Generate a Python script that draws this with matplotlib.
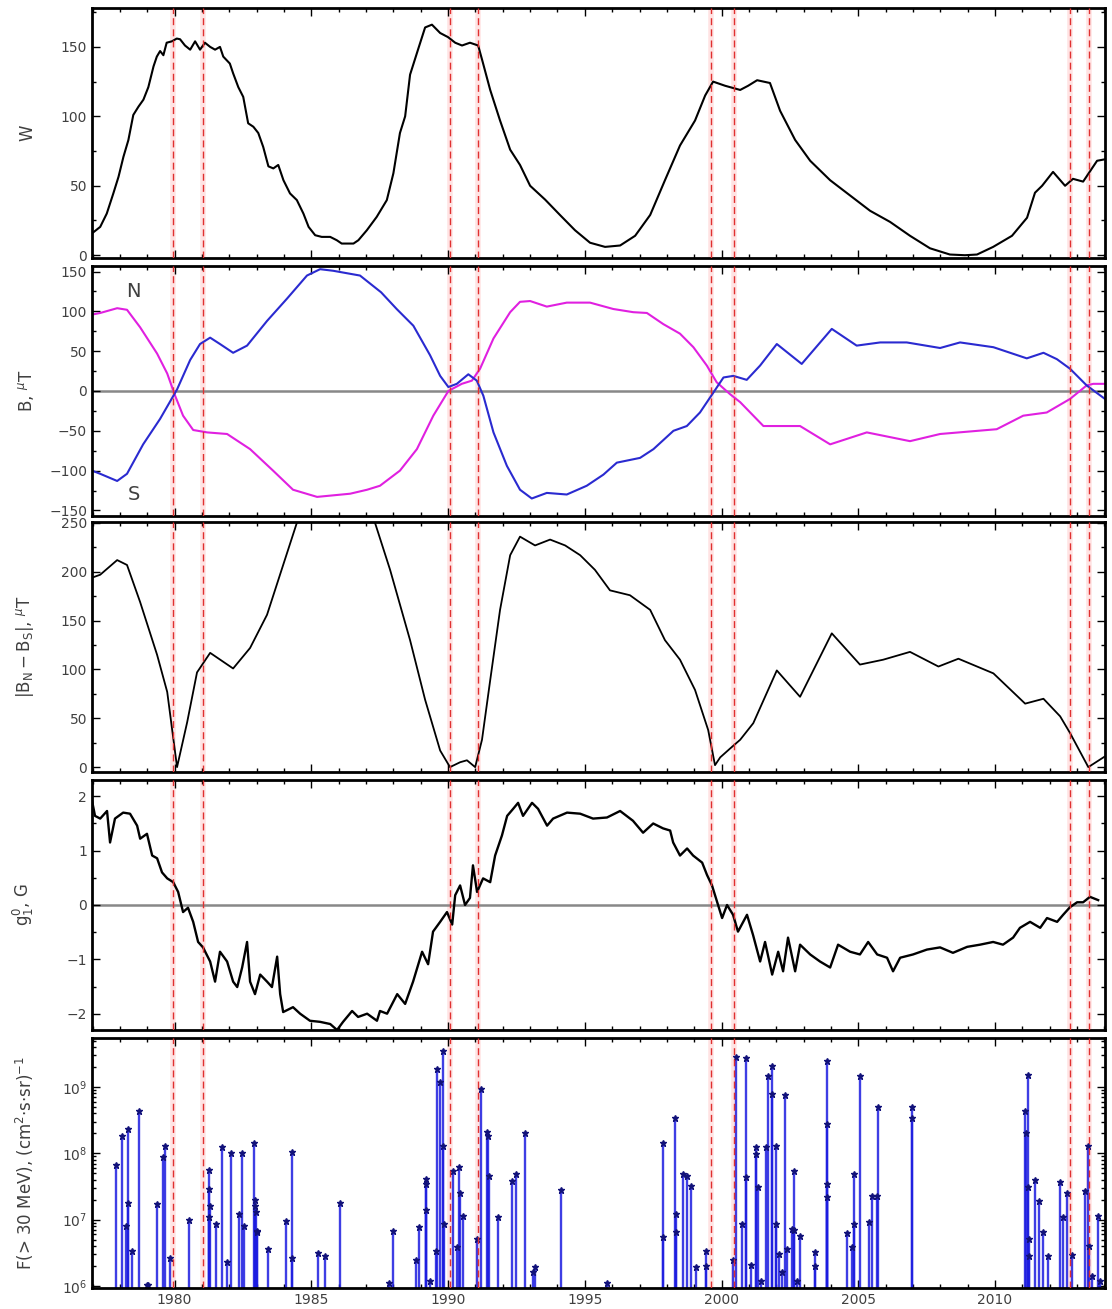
import numpy as np
import matplotlib
matplotlib.use("Agg")
import matplotlib.pyplot as plt
from matplotlib.ticker import MultipleLocator, LogLocator, NullFormatter

# ---- data ----
# sunspot number W
w_year = [1976.97, 1977.28, 1977.52, 1977.76, 1977.95, 1978.13, 1978.31, 1978.43, 1978.49, 1978.68,
          1978.86, 1979.04, 1979.23, 1979.35, 1979.47, 1979.59, 1979.71, 1979.90, 1980.08, 1980.20,
          1980.38, 1980.57, 1980.75, 1980.93, 1981.11, 1981.30, 1981.48, 1981.66, 1981.78, 1982.02,
          1982.14, 1982.33, 1982.51, 1982.69, 1982.88, 1983.06, 1983.24, 1983.43, 1983.61, 1983.79,
          1983.98, 1984.22, 1984.47, 1984.71, 1984.90, 1985.14, 1985.38, 1985.69, 1985.93, 1986.11,
          1986.54, 1986.72, 1987.03, 1987.39, 1987.76, 1988.00, 1988.24, 1988.43, 1988.61, 1988.90,
          1989.16, 1989.41, 1989.71, 1990.00, 1990.26, 1990.51, 1990.80, 1991.10, 1991.24, 1991.54,
          1991.90, 1992.27, 1992.63, 1993.00, 1993.55, 1994.09, 1994.64, 1995.19, 1995.74, 1996.29,
          1996.84, 1997.39, 1997.93, 1998.48, 1999.03, 1999.40, 1999.69, 2000.13, 2000.68, 2000.97,
          2001.30, 2001.77, 2002.14, 2002.69, 2003.24, 2003.97, 2004.70, 2005.43, 2006.16, 2006.89,
          2007.62, 2008.35, 2008.90, 2009.34, 2009.93, 2010.62, 2011.17, 2011.46, 2011.72, 2012.12,
          2012.56, 2012.85, 2013.22, 2013.73, 2014.00]
w_val = [15.6, 20.4, 30.0, 44.5, 56.5, 70.9, 82.9, 95.0, 101, 107,
         112, 121, 136, 143, 147, 144, 153, 154, 156, 155.5,
         151, 148, 154, 148, 153, 150, 148, 150, 143, 138,
         131, 121, 114, 95, 92.5, 88, 78, 64, 62.5, 65,
         54, 44.5, 39.7, 30, 20.4, 14.4, 13.2, 13.2, 10.8, 8.4,
         8.4, 10.8, 18, 27.6, 39.7, 59, 88, 100, 130, 148,
         164, 166, 160, 157, 153, 151, 153, 151, 141, 119,
         97, 76, 65, 50, 40, 29, 18, 9, 6, 7,
         14, 29, 54, 79, 97, 115, 125, 122, 119, 122,
         126, 124, 104, 83, 68, 54, 43, 32, 24, 14,
         5, 0.5, 0, 0.5, 6, 14, 27, 45, 50, 60,
         50, 55, 53, 68, 69]

# polar fields, northern (N) and southern (S) hemisphere
bn_year = [1976.98, 1977.28, 1977.90, 1978.26, 1978.74, 1979.36, 1979.73, 1980.02, 1980.31, 1980.68,
           1981.19, 1981.92, 1982.76, 1983.60, 1984.33, 1985.21, 1986.42, 1987.04, 1987.51, 1988.24,
           1988.86, 1989.46, 1990.01, 1990.50, 1990.87, 1991.17, 1991.66, 1992.27, 1992.63, 1993.00,
           1993.61, 1994.34, 1995.19, 1996.04, 1996.77, 1997.27, 1997.87, 1998.48, 1998.97, 1999.46,
           1999.82, 2000.31, 2000.68, 2001.53, 2002.87, 2003.97, 2005.31, 2006.89, 2007.99, 2010.06,
           2011.03, 2011.89, 2012.74, 2013.35, 2013.59, 2014.02]
bn_val = [96, 98, 104, 102, 80, 47, 22, -6, -31, -49,
          -52, -54, -73, -100, -124, -133, -129, -124, -119, -100,
          -73, -31, 0, 9, 13, 28, 66, 99, 112, 113,
          106, 111, 111, 103, 99, 98, 84, 72, 55, 32,
          11, -4, -14, -44, -44, -67, -52, -63, -54, -48,
          -31, -27, -10, 7, 9, 9]
bs_year = [1976.98, 1977.28, 1977.90, 1978.26, 1978.85, 1979.47, 1980.09, 1980.57, 1980.93, 1981.30,
           1981.66, 1982.14, 1982.65, 1983.38, 1984.11, 1984.84, 1985.32, 1985.80, 1986.78, 1987.55,
           1988.12, 1988.73, 1989.34, 1989.71, 1990.01, 1990.32, 1990.74, 1991.05, 1991.29, 1991.66,
           1992.15, 1992.63, 1993.06, 1993.61, 1994.34, 1995.07, 1995.68, 1996.17, 1997.02, 1997.51,
           1998.24, 1998.73, 1999.21, 1999.70, 2000.07, 2000.43, 2000.92, 2001.41, 2002.02, 2002.93,
           2004.03, 2004.94, 2005.80, 2006.77, 2007.99, 2008.72, 2009.94, 2011.16, 2011.77, 2012.26,
           2012.74, 2013.35, 2014.02]
bs_val = [-100, -104, -113, -104, -67, -35, 2, 39, 59, 67,
          59, 48, 57, 88, 116, 145, 153, 151, 145, 124,
          103, 82, 45, 19, 5, 9, 21, 13, -6, -52,
          -94, -124, -135, -128, -130, -119, -105, -90, -84, -73,
          -50, -44, -27, -2, 17, 19, 14, 32, 59, 34,
          78, 57, 61, 61, 54, 61, 55, 41, 48, 40,
          28, 7, -10]

# |B_N - B_S|
db_year = [1976.98, 1977.28, 1977.90, 1978.26, 1978.74, 1979.36, 1979.73, 1980.09, 1980.46, 1980.82,
           1981.30, 1982.14, 1982.76, 1983.38, 1983.97, 1984.48, 1985.30, 1986.40, 1987.33, 1987.88,
           1988.61, 1989.16, 1989.71, 1990.07, 1990.44, 1990.69, 1990.99, 1991.24, 1991.54, 1991.90,
           1992.27, 1992.63, 1993.18, 1993.73, 1994.28, 1994.83, 1995.37, 1995.92, 1996.65, 1997.39,
           1997.93, 1998.48, 1999.03, 1999.51, 1999.76, 1999.95, 2000.31, 2000.68, 2001.16, 2002.02,
           2002.87, 2004.03, 2005.06, 2005.91, 2006.89, 2007.93, 2008.66, 2009.94, 2011.10, 2011.77,
           2012.38, 2012.74, 2013.41, 2014.02]
db_val = [194, 197, 212, 207, 169, 115, 77, 0, 46, 97,
          117, 101, 122, 156, 207, 251, 285, 280, 250, 202,
          130, 69, 17, 0, 5, 7, 0, 28, 89, 161,
          217, 236, 227, 233, 227, 217, 202, 181, 176, 161,
          130, 110, 79, 38, 2, 10, 19, 28, 45, 99,
          72, 137, 105, 110, 118, 103, 111, 96, 65, 70,
          52, 35, 0, 11]

# solar dipole g_1^0
g_year = [1976.98, 1977.09, 1977.28, 1977.53, 1977.64, 1977.82, 1978.12, 1978.37, 1978.63, 1978.74,
          1978.99, 1979.18, 1979.36, 1979.54, 1979.73, 1979.95, 1980.13, 1980.31, 1980.49, 1980.68,
          1980.86, 1981.04, 1981.30, 1981.48, 1981.66, 1981.92, 1982.14, 1982.29, 1982.47, 1982.65,
          1982.76, 1982.94, 1983.13, 1983.38, 1983.56, 1983.75, 1983.86, 1983.97, 1984.33, 1984.59,
          1984.95, 1985.32, 1985.69, 1985.94, 1986.16, 1986.49, 1986.71, 1987.04, 1987.40, 1987.51,
          1987.77, 1988.14, 1988.43, 1988.72, 1989.05, 1989.27, 1989.45, 1989.71, 1989.96, 1990.15,
          1990.26, 1990.44, 1990.62, 1990.80, 1990.91, 1991.06, 1991.28, 1991.54, 1991.72, 1991.97,
          1992.16, 1992.38, 1992.56, 1992.74, 1993.07, 1993.29, 1993.62, 1993.84, 1994.35, 1994.83,
          1995.30, 1995.81, 1996.29, 1996.76, 1997.13, 1997.50, 1997.86, 1998.12, 1998.23, 1998.48,
          1998.74, 1998.96, 1999.29, 1999.47, 1999.65, 1999.84, 2000.02, 2000.20, 2000.42, 2000.60,
          2000.79, 2000.93, 2001.15, 2001.41, 2001.59, 2001.85, 2002.07, 2002.25, 2002.43, 2002.69,
          2002.87, 2003.24, 2003.60, 2003.97, 2004.26, 2004.70, 2005.06, 2005.36, 2005.69, 2006.05,
          2006.27, 2006.53, 2007.00, 2007.51, 2007.99, 2008.46, 2008.98, 2009.45, 2009.93, 2010.29,
          2010.66, 2010.91, 2011.28, 2011.65, 2011.90, 2012.27, 2012.49, 2012.74, 2013.00, 2013.22,
          2013.47, 2013.77]
g_val = [1.92, 1.64, 1.59, 1.73, 1.15, 1.59, 1.70, 1.68, 1.46, 1.22,
         1.31, 0.91, 0.86, 0.60, 0.49, 0.42, 0.24, -0.13, -0.05, -0.31,
         -0.68, -0.78, -1.04, -1.41, -0.86, -1.04, -1.41, -1.51, -1.15, -0.68,
         -1.41, -1.64, -1.28, -1.41, -1.51, -0.95, -1.64, -1.97, -1.88, -2.00,
         -2.13, -2.15, -2.19, -2.30, -2.15, -1.95, -2.06, -2.00, -2.13, -1.95,
         -2.00, -1.64, -1.82, -1.41, -0.86, -1.09, -0.49, -0.31, -0.13, -0.36,
         0.18, 0.36, 0.00, 0.13, 0.73, 0.24, 0.49, 0.42, 0.91, 1.28,
         1.64, 1.77, 1.88, 1.64, 1.88, 1.77, 1.46, 1.59, 1.70, 1.68,
         1.59, 1.61, 1.73, 1.55, 1.33, 1.50, 1.41, 1.37, 1.15, 0.91,
         1.04, 0.91, 0.78, 0.55, 0.36, 0.05, -0.24, 0.00, -0.18, -0.49,
         -0.31, -0.18, -0.55, -1.04, -0.68, -1.28, -0.86, -1.22, -0.60, -1.22,
         -0.73, -0.91, -1.04, -1.15, -0.73, -0.86, -0.91, -0.68, -0.91, -0.97,
         -1.22, -0.97, -0.91, -0.82, -0.78, -0.88, -0.77, -0.73, -0.68, -0.73,
         -0.60, -0.42, -0.31, -0.42, -0.24, -0.31, -0.18, -0.04, 0.05, 0.05,
         0.15, 0.09]

# proton events F(>30 MeV)
spe_year = [1977.85, 1978.09, 1978.22, 1978.31, 1978.31, 1978.46, 1978.70, 1978.98, 1979.04, 1979.37,
            1979.59, 1979.65, 1979.84, 1980.53, 1981.25, 1981.27, 1981.27, 1981.29, 1981.51, 1981.73,
            1981.93, 1982.07, 1982.37, 1982.48, 1982.55, 1982.91, 1982.93, 1982.95, 1982.97, 1983.00,
            1983.03, 1983.41, 1984.08, 1984.29, 1984.29, 1985.26, 1985.50, 1986.05, 1987.85, 1988.00,
            1988.83, 1988.95, 1989.18, 1989.18, 1989.20, 1989.34, 1989.56, 1989.61, 1989.71, 1989.81,
            1989.83, 1989.85, 1990.19, 1990.32, 1990.40, 1990.42, 1990.56, 1991.05, 1991.21, 1991.44,
            1991.46, 1991.48, 1991.82, 1992.35, 1992.48, 1992.83, 1993.12, 1993.18, 1994.13, 1995.80,
            1997.85, 1997.85, 1998.31, 1998.33, 1998.35, 1998.60, 1998.75, 1998.87, 1999.07, 1999.42,
            1999.42, 2000.43, 2000.53, 2000.74, 2000.88, 2000.88, 2001.07, 2001.26, 2001.27, 2001.32,
            2001.44, 2001.63, 2001.71, 2001.84, 2001.84, 2001.99, 2001.99, 2002.10, 2002.20, 2002.32,
            2002.41, 2002.57, 2002.66, 2002.66, 2002.75, 2002.87, 2003.42, 2003.42, 2003.85, 2003.85,
            2003.85, 2003.85, 2004.58, 2004.76, 2004.86, 2004.86, 2005.06, 2005.39, 2005.49, 2005.67,
            2005.73, 2006.98, 2006.98, 2011.10, 2011.12, 2011.22, 2011.22, 2011.24, 2011.25, 2011.46,
            2011.62, 2011.77, 2011.95, 2012.38, 2012.50, 2012.62, 2012.80, 2013.29, 2013.41, 2013.42,
            2013.53, 2013.78, 2013.84]
spe_flux = [6.6e7, 1.8e8, 8e6, 2.3e8, 1.8e7, 3.4e6, 4.3e8, 1.05e6, 1.05e6, 1.7e7,
            8.7e7, 1.3e8, 2.6e6, 1.0e7, 1.1e7, 5.6e7, 2.9e7, 1.6e7, 8.7e6, 1.25e8,
            2.3e6, 1.0e8, 1.2e7, 1.0e8, 8e6, 1.45e8, 2.0e7, 1.6e7, 1.3e7, 6.8e6,
            6.4e6, 3.6e6, 9.6e6, 1.05e8, 2.6e6, 3.1e6, 2.8e6, 1.8e7, 1.1e6, 6.8e6,
            2.5e6, 7.8e6, 4.1e7, 3.4e7, 1.4e7, 1.2e6, 3.4e6, 1.9e9, 1.2e9, 3.5e9,
            1.3e8, 8.7e6, 5.5e7, 3.8e6, 6.2e7, 2.5e7, 1.15e7, 5.1e6, 9.5e8, 2.1e8,
            1.8e8, 4.5e7, 1.1e7, 3.8e7, 4.8e7, 2.0e8, 1.6e6, 1.9e6, 2.8e7, 1.1e6,
            1.45e8, 5.5e6, 3.4e8, 1.2e7, 6.6e6, 4.8e7, 4.5e7, 3.2e7, 1.9e6, 3.4e6,
            2.0e6, 2.5e6, 2.8e9, 8.7e6, 2.7e9, 4.4e7, 2.1e6, 1.25e8, 9.7e7, 3.1e7,
            1.2e6, 1.25e8, 1.45e9, 2.1e9, 7.9e8, 1.3e8, 8.7e6, 3.0e6, 1.6e6, 7.7e8,
            3.6e6, 7.2e6, 5.4e7, 7.0e6, 1.2e6, 5.7e6, 3.3e6, 2.0e6, 2.5e9, 2.8e8,
            3.5e7, 2.2e7, 6.2e6, 3.8e6, 8.7e6, 4.8e7, 1.45e9, 9.1e6, 2.3e7, 2.3e7,
            5.0e8, 5.0e8, 3.4e8, 4.3e8, 2.0e8, 1.5e9, 3.1e7, 5.1e6, 2.8e6, 4.0e7,
            1.9e7, 6.6e6, 2.8e6, 3.7e7, 1.1e7, 2.5e7, 2.9e6, 2.7e7, 1.3e8, 4.0e6,
            1.4e6, 1.15e7, 1.2e6]

# polar field reversal epochs (red dashed lines)
reversal_years = [1979.95, 1981.05, 1990.07, 1991.10, 1999.60, 2000.45, 2012.74, 2013.43]

# ---- figure ----
plt.rcParams['font.family'] = 'DejaVu Sans'
plt.rcParams['mathtext.fontset'] = 'dejavusans'
txt = '#404040'

fig = plt.figure(figsize=(11.12, 13.09), dpi=100)
left, width = 92 / 1112, 1013 / 1112
tops = [8, 266, 522, 780, 1038]
axes = []
for i, t in enumerate(tops):
    ax = fig.add_axes([left, 1 - (t + 250) / 1309, width, 250 / 1309],
                      sharex=axes[0] if axes else None)
    axes.append(ax)
ax1, ax2, ax3, ax4, ax5 = axes

ax1.plot(w_year, w_val, color='black', lw=1.5)
ax1.set_ylim(-2, 178)
ax1.yaxis.set_major_locator(MultipleLocator(50))
ax1.yaxis.set_minor_locator(MultipleLocator(25))
ax1.set_ylabel('W')

ax2.axhline(0, color='#888888', lw=1.8, zorder=1)
ax2.plot(bn_year, bn_val, color='#e020e0', lw=1.5)
ax2.plot(bs_year, bs_val, color='#2a2ad0', lw=1.5)
ax2.text(1978.5, 125, 'N', fontsize=14, color=txt, ha='center', va='center')
ax2.text(1978.5, -130, 'S', fontsize=14, color=txt, ha='center', va='center')
ax2.set_ylim(-157, 157)
ax2.yaxis.set_major_locator(MultipleLocator(50))
ax2.yaxis.set_minor_locator(MultipleLocator(25))
ax2.set_ylabel(r'B, $^{\mu}$T')

ax3.plot(db_year, db_val, color='black', lw=1.3)
ax3.set_ylim(-5, 251)
ax3.yaxis.set_major_locator(MultipleLocator(50))
ax3.yaxis.set_minor_locator(MultipleLocator(25))
ax3.set_ylabel(r'$|\mathrm{B}_\mathrm{N} - \mathrm{B}_\mathrm{S}|$, $^{\mu}$T')

ax4.axhline(0, color='#888888', lw=1.8, zorder=1)
ax4.plot(g_year, g_val, color='black', lw=1.7)
ax4.set_ylim(-2.3, 2.3)
ax4.yaxis.set_major_locator(MultipleLocator(1))
ax4.yaxis.set_minor_locator(MultipleLocator(0.5))
ax4.set_ylabel(r'$\mathrm{g}_1^0$, G')

ybot = 9.3e5
ax5.set_yscale('log')
ax5.vlines(spe_year, ybot, spe_flux, color='#1c1ce0', lw=1.7, alpha=0.85)
ax5.plot(spe_year, spe_flux, ls='none', marker='*', ms=5, color='#12127a')
ax5.set_ylim(ybot, 5.5e9)
ax5.yaxis.set_major_locator(LogLocator(base=10, numticks=10))
ax5.yaxis.set_minor_locator(LogLocator(base=10, subs=np.arange(2, 10), numticks=20))
ax5.yaxis.set_minor_formatter(NullFormatter())
ax5.set_ylabel(r'F(> 30 MeV), (cm$^2$$\cdot$s$\cdot$sr)$^{-1}$')

ax5.set_xlim(1976.98, 2014.02)
ax5.xaxis.set_major_locator(MultipleLocator(5))
ax5.xaxis.set_minor_locator(MultipleLocator(1))

for ax in axes:
    for yr in reversal_years:
        ax.axvline(yr, color='#ff9090', lw=4, alpha=0.25, zorder=0)
        ax.axvline(yr, color='#e03030', lw=1.0, ls=(0, (5, 3)), zorder=3)
    for sp in ax.spines.values():
        sp.set_linewidth(2)
    ax.tick_params(which='both', direction='in', top=True, right=True,
                   labelsize=10, labelcolor=txt, width=1)
    ax.tick_params(which='major', length=6)
    ax.tick_params(which='minor', length=3)
    ax.yaxis.label.set_color(txt)
    ax.yaxis.label.set_fontsize(12)
    ax.yaxis.set_label_coords(-0.055, 0.5)
    if ax is not ax5:
        ax.tick_params(labelbottom=False)

fig.savefig('out.png', dpi=100)
